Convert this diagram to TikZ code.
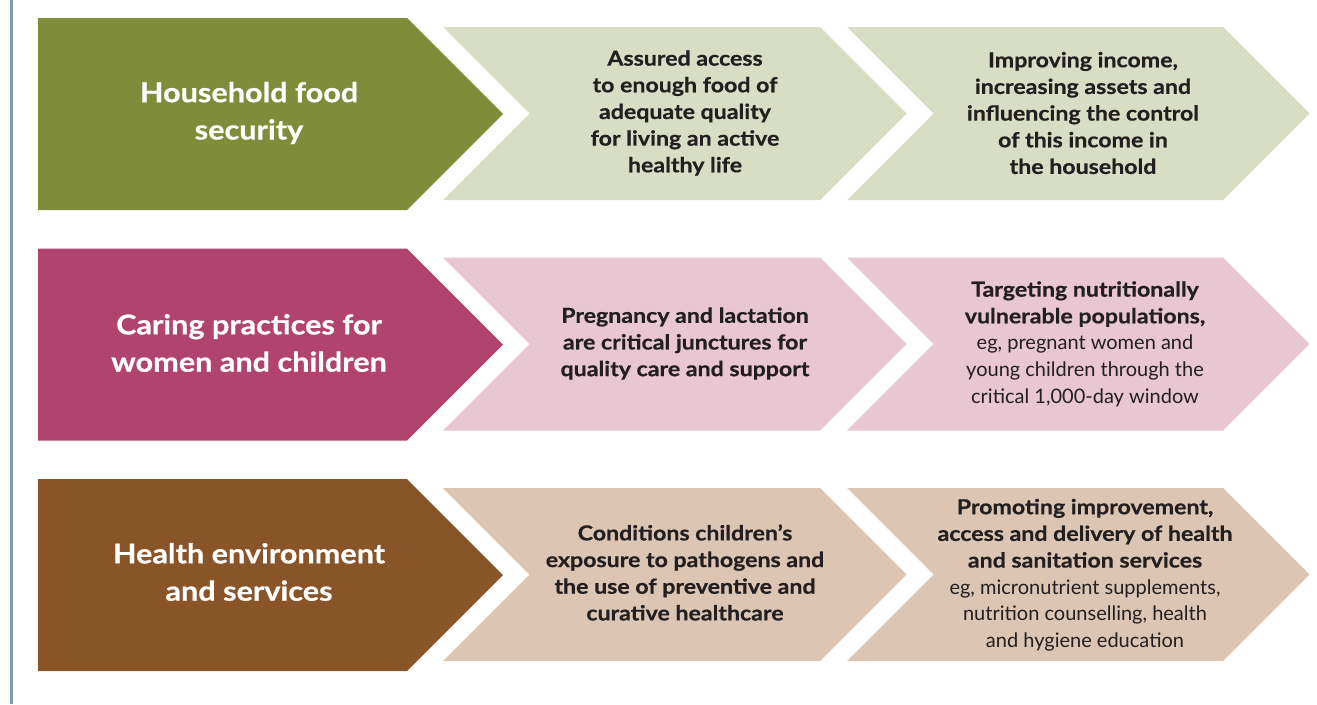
\documentclass[tikz,border=0pt]{standalone}
\usepackage{fontspec}
\setmainfont{Lato}[BoldFeatures={FakeStretch=1.12,FakeBold=0.6}]
\definecolor{oliveA}{HTML}{7F8C3A}
\definecolor{oliveB}{HTML}{D8DEC3}
\definecolor{plumA}{HTML}{B1446F}
\definecolor{plumB}{HTML}{E8C6D2}
\definecolor{brownA}{HTML}{8A5429}
\definecolor{brownB}{HTML}{DCC6B3}
\definecolor{txt}{HTML}{231F20}
\definecolor{rule}{HTML}{7F9AB0}
\tikzset{
  bigtext/.style={text=white, font=\fontsize{20.5}{28}\selectfont\bfseries, align=center, inner sep=0pt},
  smalltext/.style={text=txt, font=\fontsize{15}{20}\selectfont, align=center, inner sep=0pt},
}
\newcommand{\bb}{\fontsize{15.5}{20}\selectfont\bfseries}
\newcommand{\bigchev}[3]{% y0, h, color
  \fill[#3] (38,#1) -- (407,#1) -- ({407+#2/2},{#1+#2/2}) -- (407,{#1+#2}) -- (38,{#1+#2}) -- cycle;}
\newcommand{\smallchev}[4]{% x0, xr, y0, color ; h=173
  \fill[#4] (#1,#3) -- (#2,#3) -- ({#2+86.5},{#3+86.5}) -- (#2,{#3+173}) -- (#1,{#3+173}) -- ({#1+86.5},{#3+86.5}) -- cycle;}
\begin{document}
\begin{tikzpicture}[x=0.75pt,y=-0.75pt]
\useasboundingbox (0,0) rectangle (1317,704);
\fill[rule] (10,0) rectangle (13,704);
% row 1
\bigchev{18}{192}{oliveA}
\smallchev{443}{820}{27}{oliveB}
\smallchev{847}{1223}{27}{oliveB}
\node[bigtext] (h1) at (249,113) {Household food\\security};
\node[smalltext] (a1) at (685,113) {\bb Assured access\\\bb to enough food of\\\bb adequate quality\\\bb for living an active\\\bb healthy life};
\node[smalltext] (b1) at (1083,113) {\bb Improving income,\\\bb increasing assets and\\\bb influencing the control\\\bb of this income in\\\bb the household};
% row 2
\bigchev{248.5}{192}{plumA}
\smallchev{443}{820}{257.5}{plumB}
\smallchev{847}{1223}{257.5}{plumB}
\node[bigtext] (h2) at (249,343) {Caring practices for\\women and children};
\node[smalltext] (a2) at (685,343.5) {\bb Pregnancy and lactation\\\bb are critical junctures for\\\bb quality care and support};
\node[smalltext] (b2) at (1085,344) {\bb Targeting nutritionally\\\bb vulnerable populations,\\eg, pregnant women and\\young children through the\\critical 1,000-day window};
% row 3
\bigchev{479}{192}{brownA}
\smallchev{443}{820}{488}{brownB}
\smallchev{847}{1223}{488}{brownB}
\node[bigtext] (h3) at (249,572) {Health environment\\and services};
\node[smalltext] (a3) at (685,572.5) {\bb Conditions children’s\\\bb exposure to pathogens and\\\bb the use of preventive and\\\bb curative healthcare};
\node[smalltext] (b3) at (1085,575) {\bb Promoting improvement,\\\bb access and delivery of health\\\bb and sanitation services\\eg, micronutrient supplements,\\nutrition counselling, health\\and hygiene education};
\end{tikzpicture}
\end{document}
